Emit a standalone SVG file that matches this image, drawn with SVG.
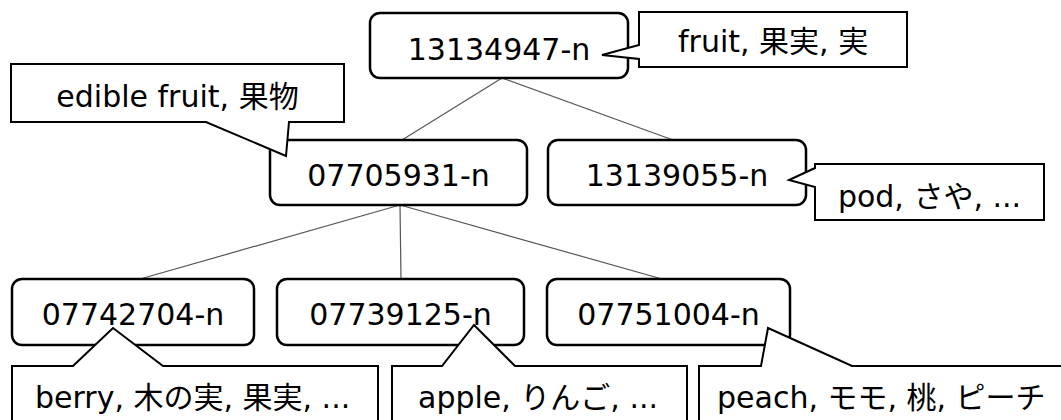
<svg xmlns="http://www.w3.org/2000/svg" width="1061" height="420" viewBox="0 0 1061 420">
<style>
.node{fill:#fff;stroke:#000;stroke-width:2.5}
.call{fill:#fff;stroke:#000;stroke-width:2;stroke-linejoin:miter}
.edge{stroke:#555;stroke-width:1.2;fill:none}
text{font-family:"DejaVu Sans","Noto Sans CJK JP",sans-serif;fill:#000}
.nt{font-size:30px;text-anchor:middle}
.ct{font-size:30px}
</style>
<rect width="1061" height="420" fill="#fff"/>
<g id="connectors">
<line class="edge" x1="502" y1="78" x2="402" y2="140"/>
<line class="edge" x1="502" y1="78" x2="673" y2="140"/>
<line class="edge" x1="400" y1="205" x2="140" y2="279"/>
<line class="edge" x1="400" y1="205" x2="401" y2="279"/>
<line class="edge" x1="400" y1="205" x2="662" y2="279"/>
</g>
<g id="n13134947">
<rect class="node" x="370" y="13" width="258" height="65" rx="10"/>
<text class="nt" x="499" y="60">13134947-n</text>
</g>
<g id="n07705931">
<rect class="node" x="270" y="140" width="257" height="65" rx="10"/>
<text class="nt" x="398.5" y="186">07705931-n</text>
</g>
<g id="n13139055">
<rect class="node" x="548" y="140" width="258" height="65" rx="10"/>
<text class="nt" x="677" y="186">13139055-n</text>
</g>
<g id="n07742704">
<rect class="node" x="12" y="279" width="242" height="66" rx="10"/>
<text class="nt" x="133" y="325">07742704-n</text>
</g>
<g id="n07739125">
<rect class="node" x="277" y="279" width="247" height="66" rx="10"/>
<text class="nt" x="400.5" y="325">07739125-n</text>
</g>
<g id="n07751004">
<rect class="node" x="547" y="279" width="243" height="66" rx="10"/>
<text class="nt" x="668.5" y="325">07751004-n</text>
</g>
<g id="c-fruit">
<path class="call" d="M639,12 H907 V67 H639 V59 L602,55 L639,45 Z"/>
<text class="ct" x="678" y="52">fruit, 果実, 実</text>
</g>
<g id="c-edible">
<path class="call" d="M11,64 H344 V122 H289 L286,156 L206,122 H11 Z"/>
<text class="ct" x="177.5" y="107" text-anchor="middle">edible fruit, 果物</text>
</g>
<g id="c-pod">
<path class="call" d="M815,164 H1044 V220 H815 V187 L789,180 L815,168 Z"/>
<text class="ct" x="929.5" y="207" text-anchor="middle">pod, さや, ...</text>
</g>
<g id="c-berry">
<path class="call" d="M12,366 H73 L113,328 L163,366 H378 V430 H12 Z"/>
<text class="ct" x="35" y="408">berry, 木の実, 果実, ...</text>
</g>
<g id="c-apple">
<path class="call" d="M392,366 H442 L474,325 L515,366 H687 V430 H392 Z"/>
<text class="ct" x="418" y="408">apple, りんご, ...</text>
</g>
<g id="c-peach">
<path class="call" d="M699,366 H761 L768,328 L852,366 H1070 V430 H699 Z"/>
<text class="ct" x="717" y="408">peach, モモ, 桃, ピーチ</text>
</g>
</svg>
